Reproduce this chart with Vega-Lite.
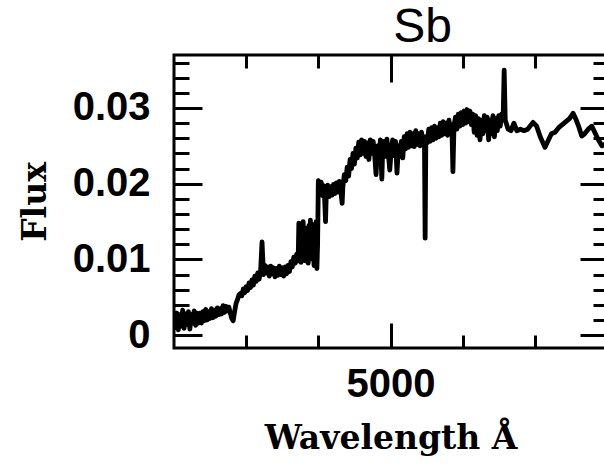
{
  "$schema": "https://vega.github.io/schema/vega-lite/v6.json",
  "width": 433,
  "height": 293,
  "autosize": {"type": "none"},
  "padding": {"left": 174, "top": 55, "right": 0, "bottom": 116},
  "background": "white",
  "title": {"text": "Sb", "font": "Liberation Sans", "fontSize": 48, "fontWeight": "normal", "color": "black", "anchor": "middle", "dx": 32, "offset": 2},
  "config": {
    "view": {"stroke": "black", "strokeWidth": 3},
    "axis": {"domain": false, "grid": false, "tickColor": "black", "tickWidth": 3, "labelColor": "black", "titleColor": "black", "labelFont": "Liberation Sans", "labelFontWeight": "bold", "labelFontSize": 40, "titleFont": "DejaVu Serif", "titleFontWeight": "bold", "titleFontSize": 33}
  },
  "data": {
    "values": [
      {"w": 4400, "f": 0.0032}, {"w": 4404, "f": 0.0010}, {"w": 4408, "f": 0.0029}, {"w": 4412, "f": 0.0007}, {"w": 4416, "f": 0.0027},
      {"w": 4420, "f": 0.0012}, {"w": 4424, "f": 0.0033}, {"w": 4428, "f": 0.0009}, {"w": 4432, "f": 0.0028}, {"w": 4436, "f": 0.0014},
      {"w": 4440, "f": 0.0031}, {"w": 4444, "f": 0.0008}, {"w": 4448, "f": 0.0027}, {"w": 4452, "f": 0.0016}, {"w": 4456, "f": 0.0032},
      {"w": 4460, "f": 0.0013}, {"w": 4464, "f": 0.0029}, {"w": 4468, "f": 0.0016}, {"w": 4472, "f": 0.0029}, {"w": 4476, "f": 0.0016},
      {"w": 4480, "f": 0.0031}, {"w": 4484, "f": 0.0019}, {"w": 4488, "f": 0.0034}, {"w": 4492, "f": 0.0020}, {"w": 4496, "f": 0.0031},
      {"w": 4500, "f": 0.0022}, {"w": 4504, "f": 0.0035}, {"w": 4508, "f": 0.0023}, {"w": 4512, "f": 0.0033}, {"w": 4516, "f": 0.0025},
      {"w": 4520, "f": 0.0036}, {"w": 4524, "f": 0.0027}, {"w": 4528, "f": 0.0035}, {"w": 4532, "f": 0.0028}, {"w": 4536, "f": 0.0039},
      {"w": 4540, "f": 0.0030}, {"w": 4544, "f": 0.0038}, {"w": 4548, "f": 0.0032}, {"w": 4552, "f": 0.0037}, {"w": 4556, "f": 0.0029},
      {"w": 4560, "f": 0.0022}, {"w": 4564, "f": 0.0019}, {"w": 4568, "f": 0.0031}, {"w": 4572, "f": 0.0042}, {"w": 4576, "f": 0.0047},
      {"w": 4580, "f": 0.0053}, {"w": 4584, "f": 0.0055}, {"w": 4588, "f": 0.0052}, {"w": 4592, "f": 0.0061}, {"w": 4596, "f": 0.0056},
      {"w": 4600, "f": 0.0064}, {"w": 4604, "f": 0.0059}, {"w": 4608, "f": 0.0069}, {"w": 4612, "f": 0.0063}, {"w": 4616, "f": 0.0073},
      {"w": 4620, "f": 0.0066}, {"w": 4624, "f": 0.0078}, {"w": 4628, "f": 0.0071}, {"w": 4632, "f": 0.0082}, {"w": 4636, "f": 0.0074},
      {"w": 4640, "f": 0.0085}, {"w": 4644, "f": 0.0123}, {"w": 4648, "f": 0.0080}, {"w": 4652, "f": 0.0092}, {"w": 4656, "f": 0.0082},
      {"w": 4660, "f": 0.0090}, {"w": 4664, "f": 0.0078}, {"w": 4668, "f": 0.0091}, {"w": 4672, "f": 0.0081}, {"w": 4676, "f": 0.0089},
      {"w": 4680, "f": 0.0077}, {"w": 4684, "f": 0.0088}, {"w": 4688, "f": 0.0079}, {"w": 4692, "f": 0.0091}, {"w": 4696, "f": 0.0080},
      {"w": 4700, "f": 0.0089}, {"w": 4704, "f": 0.0078}, {"w": 4708, "f": 0.0090}, {"w": 4712, "f": 0.0081}, {"w": 4716, "f": 0.0092},
      {"w": 4720, "f": 0.0084}, {"w": 4724, "f": 0.0097}, {"w": 4728, "f": 0.0090}, {"w": 4732, "f": 0.0103}, {"w": 4736, "f": 0.0095},
      {"w": 4740, "f": 0.0107}, {"w": 4744, "f": 0.0098}, {"w": 4746, "f": 0.0148}, {"w": 4748, "f": 0.0108}, {"w": 4750, "f": 0.0140},
      {"w": 4752, "f": 0.0096}, {"w": 4754, "f": 0.0128}, {"w": 4756, "f": 0.0103}, {"w": 4758, "f": 0.0150}, {"w": 4760, "f": 0.0112},
      {"w": 4762, "f": 0.0134}, {"w": 4764, "f": 0.0098}, {"w": 4766, "f": 0.0141}, {"w": 4768, "f": 0.0106}, {"w": 4770, "f": 0.0130},
      {"w": 4772, "f": 0.0095}, {"w": 4774, "f": 0.0145}, {"w": 4776, "f": 0.0110}, {"w": 4778, "f": 0.0152}, {"w": 4780, "f": 0.0104},
      {"w": 4782, "f": 0.0138}, {"w": 4784, "f": 0.0100}, {"w": 4786, "f": 0.0146}, {"w": 4788, "f": 0.0092}, {"w": 4790, "f": 0.0135},
      {"w": 4792, "f": 0.0115}, {"w": 4794, "f": 0.0150}, {"w": 4796, "f": 0.0088}, {"w": 4798, "f": 0.0120}, {"w": 4800, "f": 0.0204},
      {"w": 4804, "f": 0.0190}, {"w": 4808, "f": 0.0202}, {"w": 4812, "f": 0.0184}, {"w": 4816, "f": 0.0197}, {"w": 4820, "f": 0.0150},
      {"w": 4822, "f": 0.0186}, {"w": 4826, "f": 0.0198}, {"w": 4830, "f": 0.0183}, {"w": 4834, "f": 0.0196}, {"w": 4838, "f": 0.0185},
      {"w": 4842, "f": 0.0199}, {"w": 4846, "f": 0.0187}, {"w": 4850, "f": 0.0201}, {"w": 4854, "f": 0.0189}, {"w": 4858, "f": 0.0203},
      {"w": 4862, "f": 0.0192}, {"w": 4866, "f": 0.0174}, {"w": 4868, "f": 0.0196}, {"w": 4872, "f": 0.0212}, {"w": 4876, "f": 0.0204},
      {"w": 4880, "f": 0.0222}, {"w": 4884, "f": 0.0210}, {"w": 4888, "f": 0.0232}, {"w": 4892, "f": 0.0220}, {"w": 4896, "f": 0.0240},
      {"w": 4900, "f": 0.0226}, {"w": 4904, "f": 0.0247}, {"w": 4908, "f": 0.0234}, {"w": 4912, "f": 0.0255}, {"w": 4916, "f": 0.0238},
      {"w": 4920, "f": 0.0258}, {"w": 4924, "f": 0.0240}, {"w": 4928, "f": 0.0256}, {"w": 4932, "f": 0.0236}, {"w": 4936, "f": 0.0254},
      {"w": 4940, "f": 0.0232}, {"w": 4944, "f": 0.0258}, {"w": 4948, "f": 0.0240}, {"w": 4952, "f": 0.0256}, {"w": 4956, "f": 0.0238},
      {"w": 4960, "f": 0.0212}, {"w": 4964, "f": 0.0250}, {"w": 4968, "f": 0.0236}, {"w": 4972, "f": 0.0258}, {"w": 4976, "f": 0.0206},
      {"w": 4978, "f": 0.0240}, {"w": 4982, "f": 0.0256}, {"w": 4986, "f": 0.0236}, {"w": 4990, "f": 0.0259}, {"w": 4994, "f": 0.0240},
      {"w": 4998, "f": 0.0218}, {"w": 5002, "f": 0.0244}, {"w": 5006, "f": 0.0258}, {"w": 5010, "f": 0.0237}, {"w": 5014, "f": 0.0256},
      {"w": 5018, "f": 0.0214}, {"w": 5022, "f": 0.0250}, {"w": 5026, "f": 0.0236}, {"w": 5030, "f": 0.0256}, {"w": 5034, "f": 0.0234},
      {"w": 5038, "f": 0.0262}, {"w": 5042, "f": 0.0246}, {"w": 5046, "f": 0.0266}, {"w": 5050, "f": 0.0248}, {"w": 5054, "f": 0.0268},
      {"w": 5058, "f": 0.0250}, {"w": 5062, "f": 0.0266}, {"w": 5066, "f": 0.0249}, {"w": 5070, "f": 0.0270}, {"w": 5074, "f": 0.0252},
      {"w": 5078, "f": 0.0266}, {"w": 5082, "f": 0.0250}, {"w": 5086, "f": 0.0268}, {"w": 5090, "f": 0.0252}, {"w": 5094, "f": 0.0262},
      {"w": 5096, "f": 0.0128}, {"w": 5098, "f": 0.0262}, {"w": 5102, "f": 0.0254}, {"w": 5106, "f": 0.0272}, {"w": 5110, "f": 0.0256},
      {"w": 5114, "f": 0.0274}, {"w": 5118, "f": 0.0258}, {"w": 5122, "f": 0.0276}, {"w": 5126, "f": 0.0260}, {"w": 5130, "f": 0.0274},
      {"w": 5134, "f": 0.0262}, {"w": 5138, "f": 0.0280}, {"w": 5142, "f": 0.0264}, {"w": 5146, "f": 0.0282}, {"w": 5150, "f": 0.0266},
      {"w": 5154, "f": 0.0280}, {"w": 5158, "f": 0.0264}, {"w": 5162, "f": 0.0284}, {"w": 5166, "f": 0.0268}, {"w": 5170, "f": 0.0278},
      {"w": 5173, "f": 0.0216}, {"w": 5176, "f": 0.0276}, {"w": 5180, "f": 0.0288}, {"w": 5184, "f": 0.0272}, {"w": 5188, "f": 0.0292},
      {"w": 5192, "f": 0.0276}, {"w": 5196, "f": 0.0294}, {"w": 5200, "f": 0.0278}, {"w": 5204, "f": 0.0296}, {"w": 5208, "f": 0.0280},
      {"w": 5212, "f": 0.0298}, {"w": 5216, "f": 0.0282}, {"w": 5220, "f": 0.0296}, {"w": 5224, "f": 0.0278}, {"w": 5228, "f": 0.0292},
      {"w": 5232, "f": 0.0268}, {"w": 5236, "f": 0.0290}, {"w": 5240, "f": 0.0264}, {"w": 5244, "f": 0.0286}, {"w": 5248, "f": 0.0258},
      {"w": 5252, "f": 0.0284}, {"w": 5256, "f": 0.0266}, {"w": 5260, "f": 0.0290}, {"w": 5264, "f": 0.0270}, {"w": 5268, "f": 0.0288},
      {"w": 5272, "f": 0.0258}, {"w": 5276, "f": 0.0284}, {"w": 5280, "f": 0.0266}, {"w": 5284, "f": 0.0290}, {"w": 5288, "f": 0.0262},
      {"w": 5292, "f": 0.0286}, {"w": 5296, "f": 0.0270}, {"w": 5300, "f": 0.0290}, {"w": 5304, "f": 0.0276}, {"w": 5308, "f": 0.0292},
      {"w": 5312, "f": 0.0284}, {"w": 5315, "f": 0.0350}, {"w": 5318, "f": 0.0284}, {"w": 5326, "f": 0.0272}, {"w": 5334, "f": 0.0270},
      {"w": 5342, "f": 0.0280}, {"w": 5350, "f": 0.0270}, {"w": 5360, "f": 0.0272}, {"w": 5370, "f": 0.0270}, {"w": 5380, "f": 0.0272},
      {"w": 5395, "f": 0.0281}, {"w": 5405, "f": 0.0276}, {"w": 5415, "f": 0.0262}, {"w": 5428, "f": 0.0248}, {"w": 5436, "f": 0.0256},
      {"w": 5446, "f": 0.0266}, {"w": 5456, "f": 0.0268}, {"w": 5466, "f": 0.0274}, {"w": 5476, "f": 0.0278}, {"w": 5486, "f": 0.0282},
      {"w": 5496, "f": 0.0286}, {"w": 5506, "f": 0.0293}, {"w": 5514, "f": 0.0285}, {"w": 5522, "f": 0.0275}, {"w": 5530, "f": 0.0263},
      {"w": 5538, "f": 0.0266}, {"w": 5548, "f": 0.0272}, {"w": 5558, "f": 0.0276}, {"w": 5566, "f": 0.0268}, {"w": 5576, "f": 0.0258},
      {"w": 5586, "f": 0.0250}, {"w": 5594, "f": 0.0252}, {"w": 5600, "f": 0.0255}
    ]
  },
  "layer": [
    {
      "mark": {"type": "line", "color": "black", "strokeWidth": 4.8, "strokeJoin": "round", "clip": true},
      "encoding": {
        "x": {"field": "w", "type": "quantitative", "scale": {"domain": [4400, 5600], "nice": false, "zero": false},
          "axis": {"orient": "bottom", "values": [5000], "format": "d", "tickSize": -25, "labelPadding": 41, "title": "Wavelength Å", "titlePadding": 18}},
        "y": {"field": "f", "type": "quantitative", "scale": {"domain": [-0.0017, 0.037], "nice": false, "zero": false},
          "axis": {"orient": "left", "values": [0, 0.01, 0.02, 0.03], "tickSize": -28, "labelPadding": 52,
            "labelExpr": "datum.value == 0 ? '0' : format(datum.value, '.2f')", "title": "Flux", "titlePadding": 20}}
      }
    },
    {
      "mark": {"type": "line", "strokeOpacity": 0},
      "encoding": {
        "x": {"field": "w", "type": "quantitative", "scale": {"domain": [4400, 5600], "nice": false, "zero": false},
          "axis": {"orient": "bottom", "values": [4600, 4800, 5200, 5400], "tickSize": -13, "labels": false, "title": null}},
        "y": {"field": "f", "type": "quantitative", "scale": {"domain": [-0.0017, 0.037], "nice": false, "zero": false},
          "axis": {"orient": "left", "values": [0.002, 0.004, 0.006, 0.008, 0.012, 0.014, 0.016, 0.018, 0.022, 0.024, 0.026, 0.028, 0.032, 0.034, 0.036], "tickSize": -15, "labels": false, "title": null}}
      }
    },
    {
      "mark": {"type": "line", "strokeOpacity": 0},
      "encoding": {
        "x": {"field": "w", "type": "quantitative", "scale": {"domain": [4400, 5600], "nice": false, "zero": false},
          "axis": {"orient": "top", "values": [5000], "tickSize": -27, "labels": false, "title": null}},
        "y": {"field": "f", "type": "quantitative", "scale": {"domain": [-0.0017, 0.037], "nice": false, "zero": false},
          "axis": {"orient": "right", "values": [0, 0.01, 0.02, 0.03], "tickSize": -27, "labels": false, "title": null}}
      }
    },
    {
      "mark": {"type": "line", "strokeOpacity": 0},
      "encoding": {
        "x": {"field": "w", "type": "quantitative", "scale": {"domain": [4400, 5600], "nice": false, "zero": false},
          "axis": {"orient": "top", "values": [4600, 4800, 5200, 5400], "tickSize": -13, "labels": false, "title": null}},
        "y": {"field": "f", "type": "quantitative", "scale": {"domain": [-0.0017, 0.037], "nice": false, "zero": false},
          "axis": {"orient": "right", "values": [0.002, 0.004, 0.006, 0.008, 0.012, 0.014, 0.016, 0.018, 0.022, 0.024, 0.026, 0.028, 0.032, 0.034, 0.036], "tickSize": -14, "labels": false, "title": null}}
      }
    }
  ],
  "resolve": {"axis": {"x": "independent", "y": "independent"}}
}
